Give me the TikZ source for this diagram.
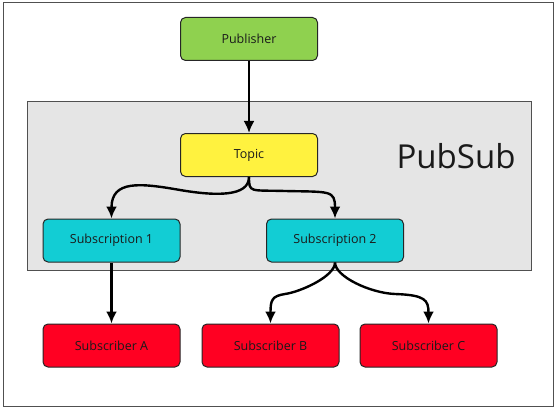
\documentclass[tikz,border=0pt]{standalone}
\usepackage{fontspec}
\setmainfont{Open Sans}
\usetikzlibrary{arrows.meta}
\definecolor{pubgreen}{HTML}{8FD14F}
\definecolor{topicyellow}{HTML}{FFF23F}
\definecolor{subcyan}{HTML}{12CDD4}
\definecolor{subred}{HTML}{FF0022}
\definecolor{boxgray}{HTML}{E5E5E5}
\definecolor{edgegray}{HTML}{505050}
\definecolor{txt}{HTML}{1A1A1A}
\tikzset{
  blockbox/.style={draw=black!85, line width=1pt, rounded corners=5pt,
    minimum width=137pt, minimum height=43pt, inner sep=0pt,
    font=\fontsize{12.5}{15}\selectfont, text=txt},
  conn/.style={line width=2.4pt, -{Latex[length=12pt,width=11pt]}},
}
\begin{document}
\begin{tikzpicture}[x=1pt,y=-1pt]
\useasboundingbox (0,0) rectangle (559,409);
\node[draw=edgegray, line width=1pt, minimum width=550pt, minimum height=403pt, inner sep=0pt] (frame) at (278,204.5) {};
\node[draw=edgegray, fill=boxgray, line width=1pt, minimum width=504pt, minimum height=169pt, inner sep=0pt] (pubsub) at (279,186) {};
\node[font=\fontsize{33}{38}\selectfont, text=txt] (pslabel) at (456,156) {PubSub};
\node[blockbox, fill=pubgreen] (pub) at (249,39) {Publisher};
\node[blockbox, fill=topicyellow] (topic) at (249,155) {Topic};
\node[blockbox, fill=subcyan] (s1) at (111.5,240.5) {Subscription 1};
\node[blockbox, fill=subcyan] (s2) at (335,240.5) {Subscription 2};
\node[blockbox, fill=subred] (sa) at (111.5,345.5) {Subscriber A};
\node[blockbox, fill=subred] (sb) at (270.5,345.5) {Subscriber B};
\node[blockbox, fill=subred] (sc) at (428.5,345.5) {Subscriber C};
\draw[conn] (pub.south) -- (topic.north);
\draw[conn] (topic.south) .. controls +(0,20) and (215,196) .. (180,190) .. controls (140,183) and (111.5,180) .. (s1.north);
\draw[conn] (topic.south) .. controls +(0,16) and (250,190) .. (285,191) .. controls (330,192) and (335,190) .. (s2.north);
\draw[conn] (sa.north |- s1.south) -- (sa.north);
\draw[conn] (s2.south) .. controls +(0,14) and (300,292) .. (285,294) .. controls (272,296) and (270.5,300) .. (sb.north);
\draw[conn] (s2.south) .. controls +(0,14) and (370,293) .. (395,294) .. controls (425,295) and (428.5,300) .. (sc.north);
\end{tikzpicture}
\end{document}
